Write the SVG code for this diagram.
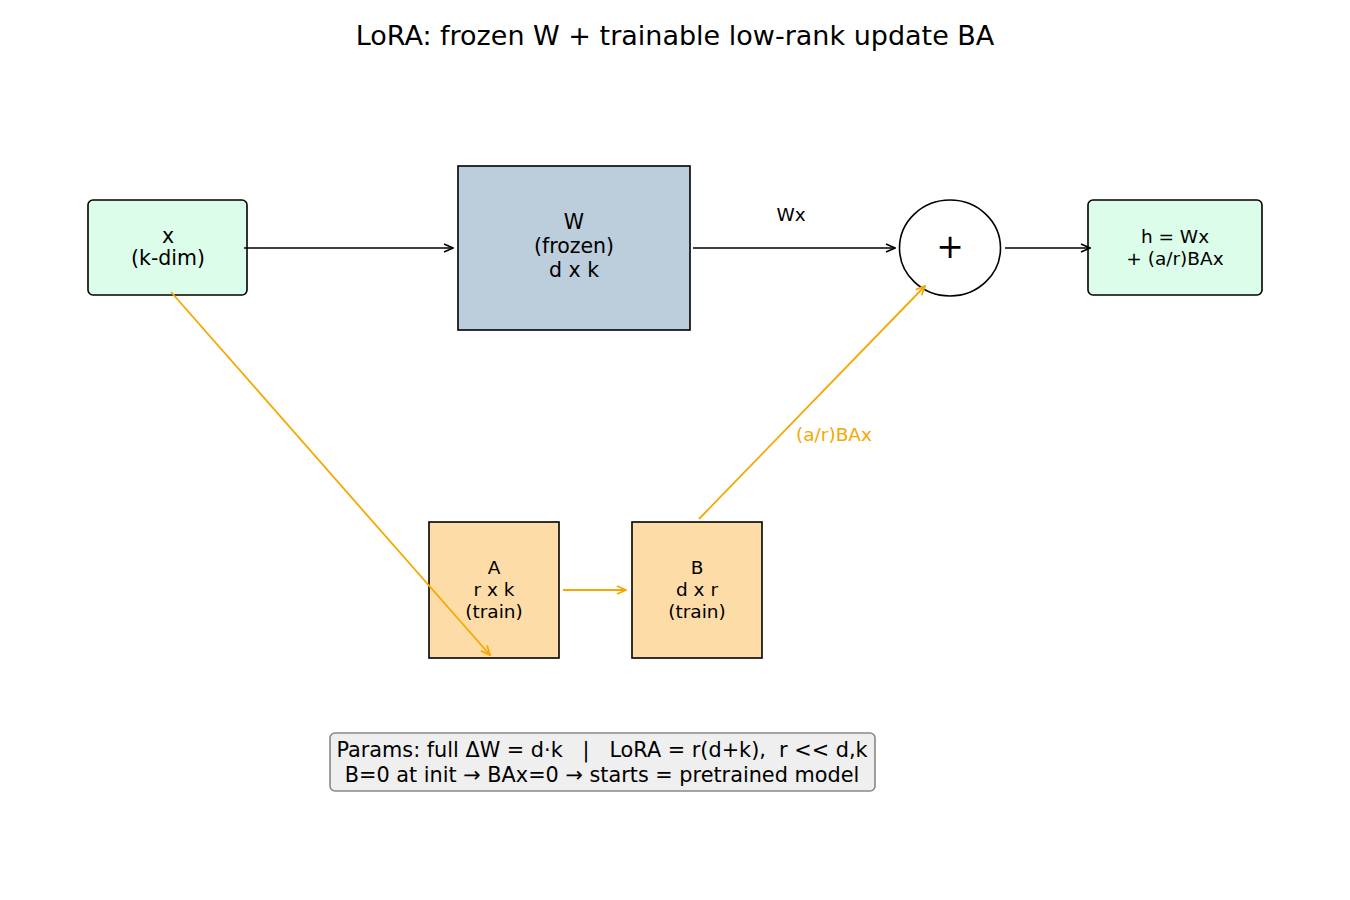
<svg xmlns="http://www.w3.org/2000/svg" width="1350" height="900" viewBox="0 0 1350 900">
<defs>
<style>
text{font-family:"DejaVu Sans","Liberation Sans",sans-serif;text-anchor:middle;dominant-baseline:central;fill:#000}
.box{stroke:#000;stroke-width:1.6}
.blk{stroke:#000;stroke-width:1.6;fill:none}
.org{stroke:#f5a800;stroke-width:1.8;fill:none}
</style>
<marker id="ab" viewBox="0 0 12 12" refX="11" refY="6" markerWidth="12" markerHeight="12" markerUnits="userSpaceOnUse" orient="auto"><polyline points="2,2 11,6 2,10" fill="none" stroke="#000" stroke-width="1.6"/></marker>
<marker id="ao" viewBox="0 0 12 12" refX="11" refY="6" markerWidth="12" markerHeight="12" markerUnits="userSpaceOnUse" orient="auto"><polyline points="2,2 11,6 2,10" fill="none" stroke="#f5a800" stroke-width="1.8"/></marker>
</defs>
<rect width="1350" height="900" fill="#fff"/>
<text x="675" y="35" font-size="27">LoRA: frozen W + trainable low-rank update BA</text>
<g id="node-x">
<rect class="box" x="88" y="200" width="159" height="95" rx="5" fill="#dcfdea"/>
<text x="168" y="236" font-size="20.5">x</text>
<text x="168" y="258" font-size="20.5">(k-dim)</text>
</g>
<g id="node-W">
<rect class="box" x="458" y="166" width="232" height="164" fill="#bccddc"/>
<text x="574" y="222" font-size="20.5">W</text>
<text x="574" y="246" font-size="20.5">(frozen)</text>
<text x="574" y="270" font-size="20.5">d x k</text>
</g>
<g id="node-plus">
<ellipse class="box" cx="950" cy="248" rx="50.5" ry="48" fill="#fff"/>
<text x="950" y="246" font-size="33">+</text>
</g>
<g id="node-h">
<rect class="box" x="1088" y="200" width="174" height="95" rx="5" fill="#dcfdea"/>
<text x="1175" y="236" font-size="18.5">h = Wx</text>
<text x="1175" y="258" font-size="18.5">+ (a/r)BAx</text>
</g>
<g id="node-A">
<rect class="box" x="429" y="522" width="130" height="136" fill="#fddca8"/>
<text x="494" y="567" font-size="18.5">A</text>
<text x="494" y="589" font-size="18.5">r x k</text>
<text x="494" y="611" font-size="18.5">(train)</text>
</g>
<g id="node-B">
<rect class="box" x="632" y="522" width="130" height="136" fill="#fddca8"/>
<text x="697" y="567" font-size="18.5">B</text>
<text x="697" y="589" font-size="18.5">d x r</text>
<text x="697" y="611" font-size="18.5">(train)</text>
</g>
<g id="note">
<rect x="330" y="733" width="545" height="58" rx="5" fill="#efefef" stroke="#888" stroke-width="1.6"/>
<text x="602" y="750" font-size="20.8" xml:space="preserve">Params: full ΔW = d·k   |   LoRA = r(d+k),  r &lt;&lt; d,k</text>
<text x="602" y="775" font-size="20.8">B=0 at init → BAx=0 → starts = pretrained model</text>
</g>
<g id="connectors">
<line class="blk" x1="244" y1="248" x2="453" y2="248" marker-end="url(#ab)"/>
<line class="blk" x1="693" y1="248" x2="895" y2="248" marker-end="url(#ab)"/>
<text x="791" y="214" font-size="18.5">Wx</text>
<line class="blk" x1="1005" y1="248" x2="1090" y2="248" marker-end="url(#ab)"/>
<line class="org" x1="171" y1="292" x2="490" y2="655" marker-end="url(#ao)"/>
<line class="org" x1="563" y1="590" x2="626" y2="590" marker-end="url(#ao)"/>
<line class="org" x1="699" y1="519" x2="925" y2="286" marker-end="url(#ao)"/>
<text x="834" y="434" font-size="18.5" style="fill:#f5a800">(a/r)BAx</text>
</g>
</svg>
